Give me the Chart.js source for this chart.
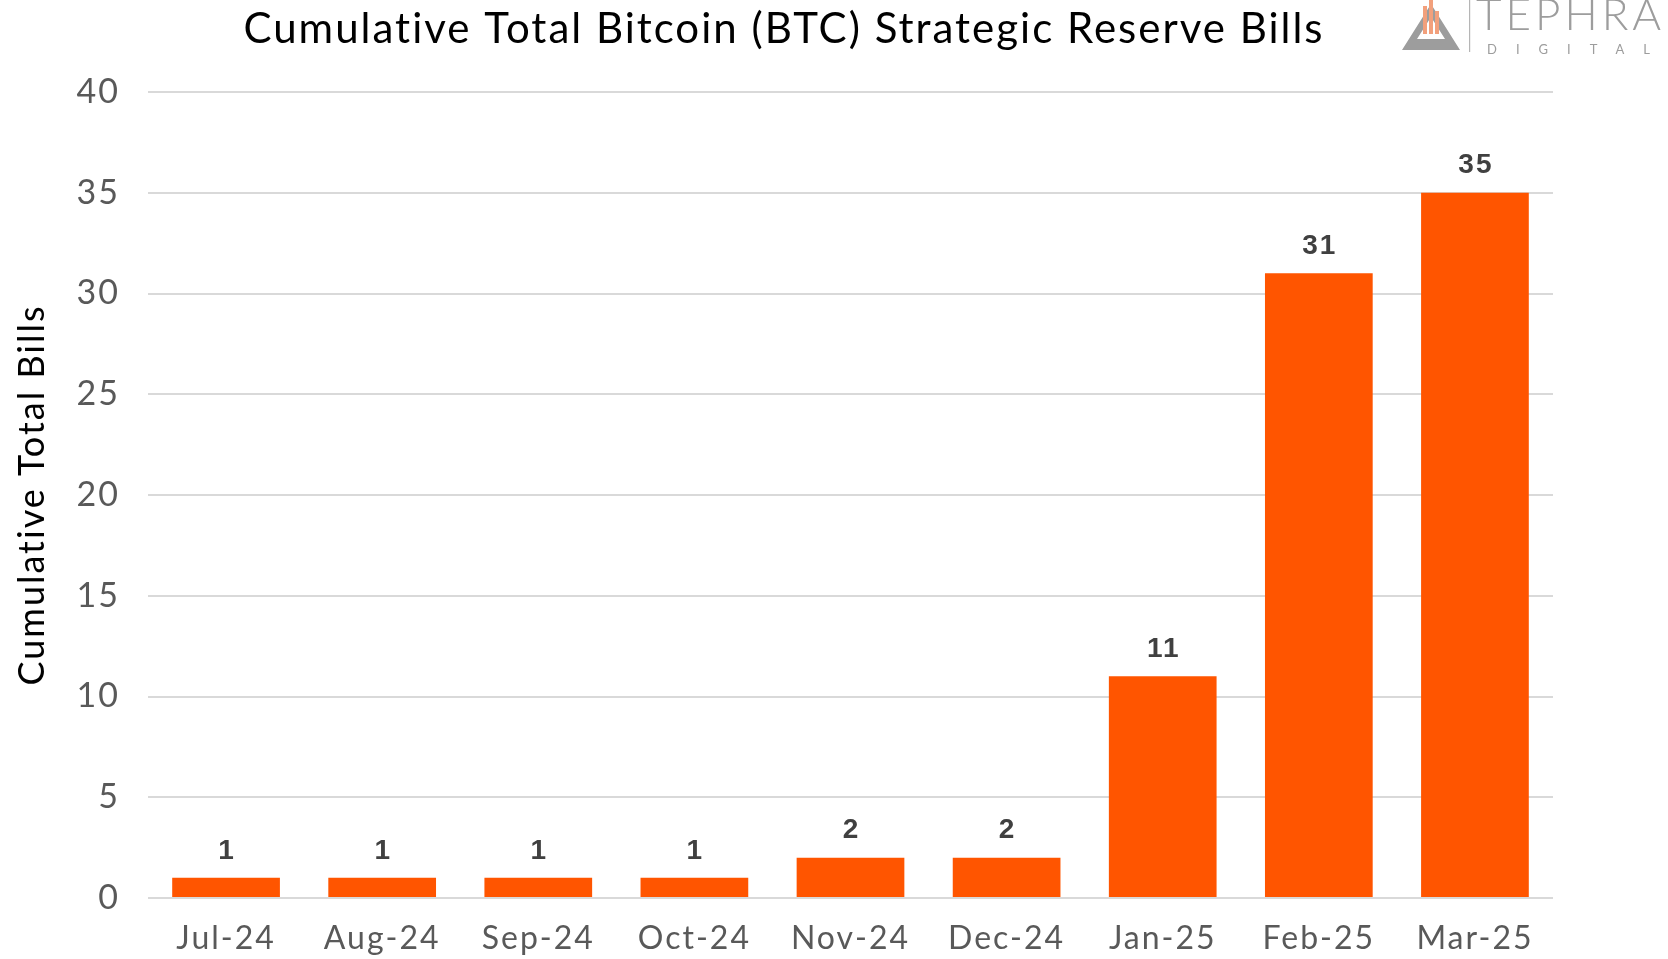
<!DOCTYPE html>
<html>
<head>
<meta charset="utf-8">
<script src="https://cdn.jsdelivr.net/npm/chart.js@4.4.1/dist/chart.umd.min.js"></script>
<style>
  html, body { margin: 0; padding: 0; background: #ffffff; }
  #wrap { position: relative; width: 1668px; height: 959px; overflow: hidden; }
  #logo { position: absolute; left: 1398px; top: 0; width: 270px; height: 56px; }
  #logo .word { position: absolute; left: 78px; top: -13px; font-family: Lato, sans-serif; font-weight: 300; font-size: 44px; letter-spacing: 4px; color: #9d9d9d; white-space: nowrap; }
  #logo .sub { position: absolute; left: 89px; top: 41px; font-family: Lato, sans-serif; font-weight: 400; font-size: 13px; letter-spacing: 19px; color: #9d9d9d; white-space: nowrap; }
</style>
</head>
<body>
<div id="wrap">
  <canvas id="chart" width="1668" height="959"></canvas>
  <div id="logo">
    <svg width="76" height="56" style="position:absolute;left:0;top:0">
      <path fill="#9d9d9d" fill-rule="evenodd" d="M4 50 L62 50 L33 4 Z M19 39 L47 39 L33 17 Z"/>
      <rect x="25" y="6" width="4" height="28" fill="#f2a07c"/>
      <rect x="31" y="0" width="4" height="34" fill="#f2a07c"/>
      <rect x="37" y="11" width="4" height="23" fill="#f2a07c"/>
      <rect x="71" y="0" width="1.2" height="52" fill="#b5b5b5"/>
    </svg>
    <div class="word">TEPHRA</div>
    <div class="sub">DIGITAL</div>
  </div>
</div>
<script>
const categories = ['Jul-24', 'Aug-24', 'Sep-24', 'Oct-24', 'Nov-24', 'Dec-24', 'Jan-25', 'Feb-25', 'Mar-25'];
const billCounts = [1, 1, 1, 1, 2, 2, 11, 31, 35];
const yMin = 0;
const yMax = 40;
const yStep = 5;
const chartTitle = 'Cumulative Total Bitcoin (BTC) Strategic Reserve Bills';
const yAxisTitle = 'Cumulative Total Bills';

const spacing = {
  id: 'spacing',
  beforeUpdate(chart) { chart.ctx.letterSpacing = '2px'; },
  beforeLayout(chart) { chart.ctx.letterSpacing = '2px'; },
  beforeDraw(chart) { chart.ctx.letterSpacing = '2px'; }
};

const titleText = {
  id: 'titleText',
  afterDraw(chart) {
    const ctx = chart.ctx;
    ctx.save();
    ctx.letterSpacing = '2px';
    ctx.font = '42px Lato, sans-serif';
    ctx.fillStyle = '#000000';
    ctx.textAlign = 'center';
    ctx.textBaseline = 'middle';
    ctx.fillText(chartTitle, 784, 29);
    ctx.restore();
  }
};

const barLabels = {
  id: 'barLabels',
  afterDatasetsDraw(chart) {
    const ctx = chart.ctx;
    const meta = chart.getDatasetMeta(0);
    ctx.save();
    ctx.letterSpacing = '2px';
    ctx.font = 'bold 28px "Liberation Sans", Arial, sans-serif';
    ctx.fillStyle = '#404040';
    ctx.textAlign = 'center';
    ctx.textBaseline = 'middle';
    meta.data.forEach((el, i) => {
      ctx.fillText(String(chart.data.datasets[0].data[i]), el.x + 1, el.y - 27);
    });
    ctx.restore();
  }
};

new Chart(document.getElementById('chart'), {
  type: 'bar',
  data: {
    labels: categories,
    datasets: [{
      data: billCounts,
      backgroundColor: '#ff5500',
      borderWidth: 0,
      categoryPercentage: 1.0,
      barPercentage: 0.69
    }]
  },
  options: {
    responsive: false,
    animation: false,
    layout: { padding: { left: 0, right: 115, top: 92, bottom: 0 } },
    plugins: {
      legend: { display: false },
      tooltip: { enabled: false },
      title: { display: false }
    },
    scales: {
      x: {
        grid: { display: false, drawTicks: false },
        border: { display: false },
        ticks: { color: '#595959', font: { family: 'Lato', size: 32 }, padding: 21, maxRotation: 0 },
        afterFit(scale) { scale.height = 61; }
      },
      y: {
        min: yMin,
        max: yMax,
        grid: { color: '#d9d9d9', lineWidth: 2, drawTicks: false },
        border: { display: false },
        ticks: { stepSize: yStep, color: '#595959', font: { family: 'Lato', size: 34 }, padding: 28 },
        title: {
          display: true,
          text: yAxisTitle,
          color: '#000000',
          font: { family: 'Lato', size: 36 },
          padding: { top: 11, bottom: 0 }
        },
        afterFit(scale) { scale.width = 148; }
      }
    }
  },
  plugins: [spacing, titleText, barLabels]
});
</script>
</body>
</html>
